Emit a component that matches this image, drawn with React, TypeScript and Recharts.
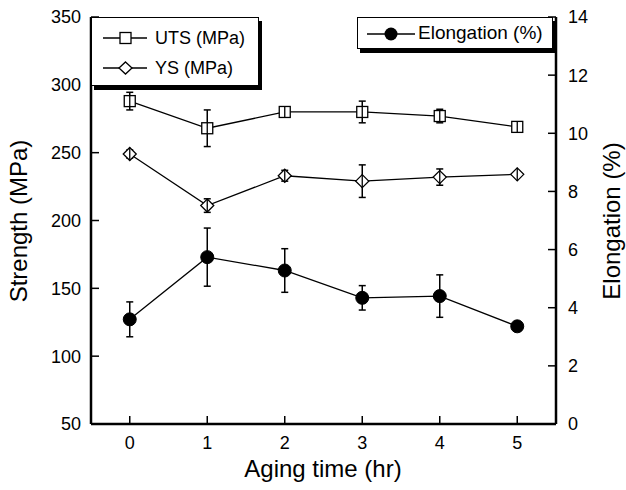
import React from "react";
import { LineChart, Line, XAxis, YAxis, ErrorBar } from "recharts";

const hours = [0, 1, 2, 3, 4, 5];
const uts = [288, 268, 280, 280, 277, 269];
const utsErr = [6.5, 13.5, 3, 8, 5, 3];
const ys = [249, 211, 233, 229, 232, 234];
const ysErr = [3, 5, 4, 12, 6, 2];
const elong = [3.6, 5.74, 5.28, 4.34, 4.4, 3.36];
const elongErr = [0.6, 1.0, 0.75, 0.42, 0.73, 0.12];

const strengthTicks = [50, 100, 150, 200, 250, 300, 350];
const elongTicks = [0, 2, 4, 6, 8, 10, 12, 14];

const data = hours.map((t, i) => ({
  t,
  uts: uts[i],
  utsErr: utsErr[i],
  ys: ys[i],
  ysErr: ysErr[i],
  elong: elong[i],
  elongErr: elongErr[i],
}));

const FONT = "'Liberation Sans', Arial, sans-serif";
const tickStyle = { fill: "#000", fontSize: 18, fontFamily: FONT };
const axisLine = { stroke: "#000", strokeWidth: 2.5 };
const tickLine = { stroke: "#000", strokeWidth: 1.5 };

const SquareDot = (props: any) => {
  const { cx, cy, index } = props;
  return (
    <g key={`sq-${index}`}>
      <rect x={cx - 5.5} y={cy - 5.5} width={11} height={11} fill="#fff" stroke="#000" strokeWidth={1.3} />
      <line x1={cx} y1={cy - 5.5} x2={cx} y2={cy + 5.5} stroke="#000" strokeWidth={1.3} />
    </g>
  );
};

const DiamondDot = (props: any) => {
  const { cx, cy, index } = props;
  return (
    <g key={`di-${index}`}>
      <path
        d={`M${cx},${cy - 6.5} L${cx + 6.5},${cy} L${cx},${cy + 6.5} L${cx - 6.5},${cy} Z`}
        fill="#fff"
        stroke="#000"
        strokeWidth={1.3}
      />
      <line x1={cx} y1={cy - 6.5} x2={cx} y2={cy + 6.5} stroke="#000" strokeWidth={1.3} />
    </g>
  );
};

const CircleDot = (props: any) => {
  const { cx, cy, index } = props;
  return <circle key={`ci-${index}`} cx={cx} cy={cy} r={6.5} fill="#000" stroke="#000" />;
};

const legendText: React.CSSProperties = {
  fontFamily: FONT,
  fontSize: 18,
  color: "#000",
  position: "absolute",
  lineHeight: "20px",
  whiteSpace: "nowrap",
};

const titleStyle: React.CSSProperties = {
  position: "absolute",
  fontFamily: FONT,
  fontSize: 24,
  lineHeight: "28px",
  whiteSpace: "nowrap",
  color: "#000",
};

export default function App() {
  return (
    <div style={{ position: "absolute", left: 0, top: 0, width: 626, height: 490, background: "#fff" }}>
      <LineChart
        width={626}
        height={490}
        data={data}
        margin={{ top: 17, right: 20, bottom: 16, left: 31 }}
      >
        <XAxis
          dataKey="t"
          type="number"
          domain={[-0.5, 5.5]}
          ticks={hours}
          interval={0}
          height={50}
          axisLine={axisLine}
          tickLine={tickLine}
          tickSize={-8}
          tickMargin={20}
          tick={tickStyle}
        />
        <XAxis
          xAxisId="top"
          dataKey="t"
          type="number"
          orientation="top"
          domain={[-0.5, 5.5]}
          ticks={hours}
          interval={0}
          height={0}
          axisLine={axisLine}
          tickLine={tickLine}
          tickSize={-8}
          tickFormatter={() => ""}
        />
        <YAxis
          yAxisId="left"
          domain={[50, 350]}
          ticks={strengthTicks}
          interval={0}
          width={60}
          axisLine={axisLine}
          tickLine={tickLine}
          tickSize={-8}
          tickMargin={18}
          tick={tickStyle}
        />
        <YAxis
          yAxisId="right"
          orientation="right"
          domain={[0, 14]}
          ticks={elongTicks}
          interval={0}
          width={50}
          axisLine={axisLine}
          tickLine={tickLine}
          tickSize={-8}
          tickMargin={20}
          tick={{ ...tickStyle, textAnchor: "start" }}
        />
        <Line
          yAxisId="left"
          dataKey="uts"
          stroke="#000"
          strokeWidth={1.3}
          dot={SquareDot}
          isAnimationActive={false}
        >
          <ErrorBar dataKey="utsErr" width={3.5} stroke="#000" strokeWidth={1.5} direction="y" />
        </Line>
        <Line
          yAxisId="left"
          dataKey="ys"
          stroke="#000"
          strokeWidth={1.3}
          dot={DiamondDot}
          isAnimationActive={false}
        >
          <ErrorBar dataKey="ysErr" width={3.5} stroke="#000" strokeWidth={1.5} direction="y" />
        </Line>
        <Line
          yAxisId="right"
          dataKey="elong"
          stroke="#000"
          strokeWidth={1.3}
          dot={CircleDot}
          isAnimationActive={false}
        >
          <ErrorBar dataKey="elongErr" width={3.5} stroke="#000" strokeWidth={1.5} direction="y" />
        </Line>
      </LineChart>

      {/* axis titles */}
      <div style={{ ...titleStyle, left: 19, top: 221, transform: "translate(-50%, -50%) rotate(-90deg)" }}>
        Strength (MPa)
      </div>
      <div style={{ ...titleStyle, left: 612, top: 221, transform: "translate(-50%, -50%) rotate(-90deg)" }}>
        Elongation (%)
      </div>
      <div style={{ ...titleStyle, left: 323, top: 469, transform: "translate(-50%, -50%)" }}>
        Aging time (hr)
      </div>

      {/* left legend box */}
      <div
        style={{
          position: "absolute",
          left: 91,
          top: 17,
          width: 166,
          height: 67,
          background: "#fff",
          border: "1.5px solid #000",
          boxShadow: "3px 4px 0 #000",
        }}
      >
        <svg width={60} height={67} style={{ position: "absolute", left: 0, top: 0 }}>
          <line x1={11} y1={20} x2={55} y2={20} stroke="#000" strokeWidth={1.3} />
          <rect x={28} y={14.5} width={11} height={11} fill="#fff" stroke="#000" strokeWidth={1.3} />
          <line x1={11} y1={50} x2={55} y2={50} stroke="#000" strokeWidth={1.3} />
          <path d="M33.5,44 L40,50 L33.5,56 L27,50 Z" fill="#fff" stroke="#000" strokeWidth={1.3} />
        </svg>
        <div style={{ ...legendText, left: 63, top: 10 }}>UTS (MPa)</div>
        <div style={{ ...legendText, left: 63, top: 40 }}>YS (MPa)</div>
      </div>

      {/* right legend box */}
      <div
        style={{
          position: "absolute",
          left: 357,
          top: 17,
          width: 194,
          height: 30,
          background: "#fff",
          border: "1.5px solid #000",
          boxShadow: "3px 4px 0 #000",
        }}
      >
        <svg width={60} height={30} style={{ position: "absolute", left: 0, top: 0 }}>
          <line x1={9} y1={16} x2={57} y2={16} stroke="#000" strokeWidth={1.3} />
          <circle cx={33} cy={16} r={6.5} fill="#000" />
        </svg>
        <div style={{ ...legendText, left: 60, top: 5, fontSize: 19 }}>Elongation (%)</div>
      </div>
    </div>
  );
}
